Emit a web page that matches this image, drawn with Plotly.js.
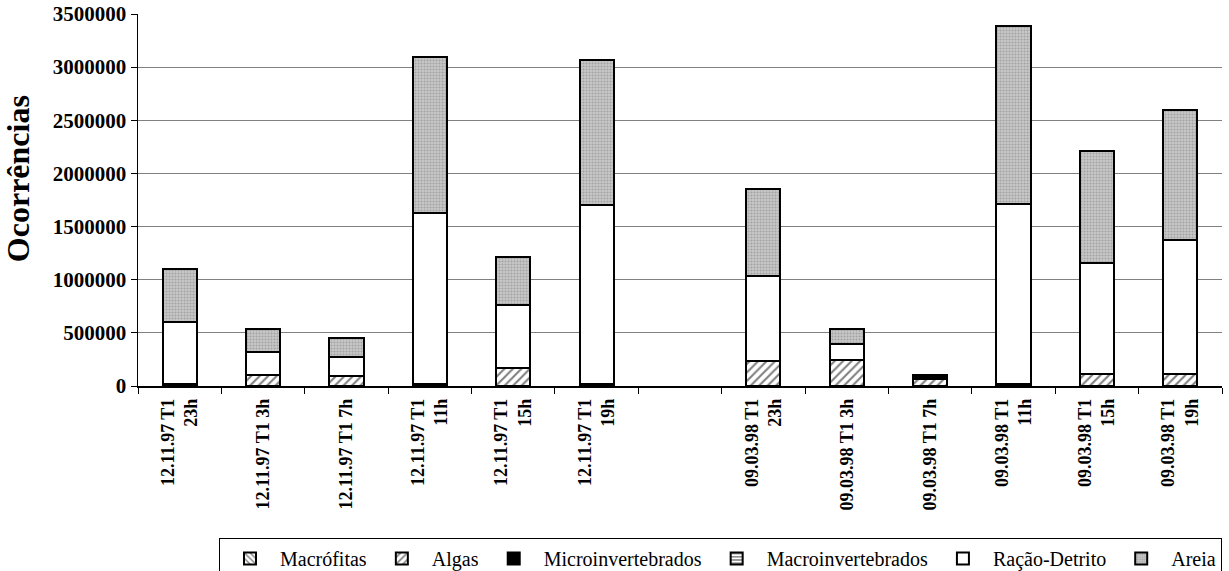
<!DOCTYPE html>
<html>
<head>
<meta charset="utf-8">
<script src="https://cdn.plot.ly/plotly-3.0.1.min.js"></script>
<style>html,body{margin:0;padding:0;background:#fff;}#chart{width:1229px;height:571px;}</style>
</head>
<body>
<div id="chart"></div>
<script>
const categories = [
  "12.11.97 T1<br>23h", "12.11.97 T1 3h", "12.11.97 T1 7h", "12.11.97 T1<br>11h",
  "12.11.97 T1<br>15h", "12.11.97 T1<br>19h", " ",
  "09.03.98 T1<br>23h", "09.03.98 T1 3h", "09.03.98 T1 7h", "09.03.98 T1<br>11h",
  "09.03.98 T1<br>15h", "09.03.98 T1<br>19h"
];
const macrofitas         = [0, 0, 0, 0, 0, 0, null, 0, 0, 0, 0, 0, 0];
const algas              = [0, 100000, 95000, 0, 170000, 0, null, 235000, 245000, 65000, 0, 110000, 110000];
const microinvertebrados = [0, 0, 0, 0, 0, 0, null, 0, 0, 38000, 0, 0, 0];
const macroinvertebrados = [20000, 0, 0, 20000, 0, 20000, null, 0, 0, 0, 15000, 0, 0];
const racaoDetrito       = [585000, 223000, 181000, 1612000, 596000, 1682000, null, 801000, 148000, 0, 1700000, 1051000, 1265000];
const areia              = [499000, 214000, 179000, 1463000, 446000, 1368000, null, 816000, 141000, 0, 1670000, 1052000, 1224000];
const yTicks = [0, 500000, 1000000, 1500000, 2000000, 2500000, 3000000, 3500000];
const yTitle = 'Ocorrências';

const FONT = 'Liberation Serif, Times New Roman, serif';
const line = {color: '#000', width: 2};

function tr(name, vals, color, pattern) {
  return {
    type: 'bar', name: name, x: categories, y: vals,
    marker: {color: color, line: line, pattern: pattern},
    hoverinfo: 'skip'
  };
}

const data = [
  tr('Macrófitas', macrofitas, '#fff', {shape: '\\', fgcolor: '#000', bgcolor: '#fff', size: 5, solidity: 0.35, fillmode: 'overlay'}),
  tr('Algas', algas, '#fff', {shape: '/', fgcolor: '#000', bgcolor: '#fff', size: 6, solidity: 0.35, fillmode: 'overlay'}),
  tr('Microinvertebrados', microinvertebrados, '#000', {shape: ''}),
  tr('Macroinvertebrados', macroinvertebrados, '#fff', {shape: '-', fgcolor: '#000', bgcolor: '#fff', size: 4, solidity: 0.45, fillmode: 'overlay'}),
  tr('Ração-Detrito', racaoDetrito, '#fff', {shape: ''}),
  tr('Areia', areia, '#c2c2c2', {shape: '.', fgcolor: '#7c7c7c', bgcolor: '#c8c8c8', size: 3, solidity: 0.4, fillmode: 'overlay'})
];

const layout = {
  width: 1229, height: 571,
  margin: {l: 138, r: 7, t: 14, b: 185},
  paper_bgcolor: '#fff', plot_bgcolor: '#fff',
  barmode: 'stack', bargap: 0.59,
  showlegend: true,
  font: {family: FONT, color: '#000'},
  xaxis: {
    type: 'category', categoryorder: 'array', categoryarray: categories,
    tickangle: -90, tickson: 'boundaries', ticks: 'outside', ticklen: 6, tickcolor: '#000',
    ticklabelstandoff: 4,
    tickfont: {family: FONT, size: 18, color: '#000', weight: 'bold'},
    showline: true, linecolor: '#000', linewidth: 1.5, showgrid: false, zeroline: false,
    automargin: false, fixedrange: true
  },
  yaxis: {
    range: [0, 3500000], tickvals: yTicks, ticktext: yTicks.map(String),
    ticks: 'outside', ticklen: 6, tickcolor: '#000',
    tickfont: {family: FONT, size: 21, color: '#000', weight: 'bold'},
    showline: true, linecolor: '#000', linewidth: 1.5,
    showgrid: true, gridcolor: '#808080', gridwidth: 1, zeroline: false,
    automargin: false, fixedrange: true
  },
  annotations: [{
    text: yTitle, textangle: -90, showarrow: false,
    xref: 'paper', yref: 'paper', x: -0.1107, y: 0.556, xanchor: 'center', yanchor: 'middle',
    font: {family: FONT, size: 32, color: '#000', weight: 'bold'}
  }],
  legend: {
    orientation: 'h', traceorder: 'normal',
    xref: 'paper', x: 1, xanchor: 'right',
    yref: 'container', y: 0.058, yanchor: 'top',
    bordercolor: '#000', borderwidth: 1, bgcolor: '#fff',
    font: {family: FONT, size: 20, color: '#000'},
    itemwidth: 50, tracegroupgap: 0
  }
};

Plotly.newPlot('chart', data, layout, {displayModeBar: false, staticPlot: true});
</script>
</body>
</html>
